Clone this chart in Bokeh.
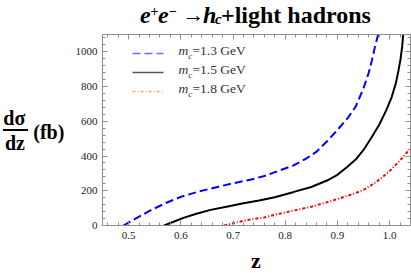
from bokeh.plotting import figure
from bokeh.models import (LinearAxis, FixedTicker, NumeralTickFormatter, Label, Arrow,
                          Range1d, Div, CustomJSTickFormatter)
from bokeh.layouts import column, row
from bokeh.embed import file_html
from bokeh.resources import INLINE

# ---- data ----
z_13 = [0.490, 0.515, 0.540, 0.570, 0.600, 0.635, 0.670, 0.700, 0.735, 0.760, 0.790,
        0.815, 0.840, 0.860, 0.880, 0.900, 0.920, 0.935, 0.950, 0.960, 0.966, 0.972, 0.978]
y_13 = [0, 42, 84, 128, 165, 196, 222, 243, 265, 285, 318,
        345, 385, 425, 485, 550, 620, 685, 790, 880, 950, 1030, 1100]

z_15 = [0.568, 0.585, 0.605, 0.630, 0.657, 0.690, 0.720, 0.750, 0.780, 0.815, 0.850,
        0.880, 0.900, 0.918, 0.935, 0.950, 0.965, 0.980, 0.993, 1.004, 1.012, 1.017,
        1.021, 1.024, 1.026]
y_15 = [0, 20, 44, 68, 90, 110, 128, 144, 163, 192, 222,
        259, 292, 336, 380, 435, 505, 580, 660, 740, 820, 893,
        960, 1030, 1100]

z_18 = [0.683, 0.710, 0.735, 0.760, 0.785, 0.816, 0.850, 0.880, 0.905, 0.931, 0.950,
        0.969, 0.985, 1.001, 1.020, 1.039]
y_18 = [0, 20, 36, 46, 65, 86, 108, 134, 157, 183, 205,
        240, 275, 317, 374, 442]

legend_mass = ["1.3", "1.5", "1.8"]

x_major = [0.5, 0.6, 0.7, 0.8, 0.9, 1.0]
x_minor = [round(0.46 + 0.02 * i, 2) for i in range(29)]
y_major = [0, 200, 400, 600, 800, 1000]
y_minor = [40 * i for i in range(28)]

FONT = "Liberation Serif"
AX = "#8f8f8f"

p = figure(width=339, height=211, output_backend="svg", toolbar_location=None,
           x_range=Range1d(0.45, 1.04), y_range=Range1d(0, 1100),
           min_border_left=30, min_border_right=1, min_border_top=0, min_border_bottom=20)
p.xgrid.visible = False
p.ygrid.visible = False
p.outline_line_color = AX
p.background_fill_color = "white"
p.border_fill_color = "white"


def style(ax, labels=True):
    ax.axis_line_color = AX
    ax.major_tick_line_color = AX
    ax.minor_tick_line_color = AX
    ax.major_tick_in = 5
    ax.major_tick_out = 0
    ax.minor_tick_in = 3
    ax.minor_tick_out = 0
    ax.major_label_text_font = FONT
    ax.major_label_text_font_size = "11px"
    ax.major_label_text_color = "#222222"
    if not labels:
        ax.formatter = CustomJSTickFormatter(code="return ''")
        ax.major_label_standoff = 0


xt = FixedTicker(ticks=x_major, minor_ticks=x_minor)
yt = FixedTicker(ticks=y_major, minor_ticks=y_minor)

xa = p.xaxis[0]
xa.ticker = xt
xa.formatter = NumeralTickFormatter(format="0.0")
style(xa)
xa.major_label_standoff = 6

ya = p.yaxis[0]
ya.ticker = yt
style(ya)
ya.major_label_standoff = 5

ra = LinearAxis(ticker=yt)
style(ra, labels=False)
p.add_layout(ra, "right")
ta = LinearAxis(ticker=xt)
style(ta, labels=False)
p.add_layout(ta, "above")

# ---- curves ----
p.line(z_13, y_13, line_color="#0000ff", line_width=2, line_dash="8 4")
p.line(z_15, y_15, line_color="black", line_width=2)
p.line(z_18, y_18, line_color="#ff0000", line_width=2, line_dash="3 2 1 2")

# ---- legend (screen units relative to the frame) ----
leg_styles = [("#6a6aff", "8 4"), ("#555555", "solid"), ("#ffa868", "3 2 1 2")]
leg_y = [172, 153, 134]
for (col, dash), ly, mass in zip(leg_styles, leg_y, legend_mass):
    p.add_layout(Arrow(end=None, x_start=30, y_start=ly, x_end=61, y_end=ly,
                       start_units="screen", end_units="screen",
                       line_color=col, line_width=1.6, line_dash=dash))
    p.add_layout(Label(x=76, y=ly - 4.5, x_units="screen", y_units="screen", text="m",
                       text_font=FONT, text_font_style="italic", text_font_size="13.5px",
                       text_color="#333333"))
    p.add_layout(Label(x=85.8, y=ly - 7.5, x_units="screen", y_units="screen", text="c",
                       text_font=FONT, text_font_style="italic", text_font_size="9px",
                       text_color="#333333"))
    p.add_layout(Label(x=90, y=ly - 4.5, x_units="screen", y_units="screen",
                       text="=" + mass + " GeV",
                       text_font=FONT, text_font_size="13.5px", text_color="#333333"))


def piece(text, left, top, size, italic=False, bold=True):
    return ('<span style="position:absolute; left:%spx; top:%spx; font-size:%spx; '
            'line-height:%spx; font-style:%s; font-weight:%s; white-space:nowrap;">%s</span>'
            % (left, top, size, size, "italic" if italic else "normal",
               "bold" if bold else "normal", text))


BOX = ('<div style="position:relative; width:%spx; height:%spx; '
       'font-family:\'Liberation Serif\',serif; color:black;">%s</div>')

title_html = BOX % (411, 34, "".join([
    piece("e", 140, 2.6, 24, italic=True),
    piece("+", 150.5, 5.1, 14),
    piece("e", 158, 2.6, 24, italic=True),
    piece("\u2212", 169, 5.1, 14),
    piece("\u2192", 182.5, 4.3, 22),
    piece("h", 203, 2.6, 24, italic=True),
    piece("c", 215, 12.4, 15, italic=True),
    piece("+light hadrons", 221, 2.6, 24),
]))

ylab_html = BOX % (72, 211, "".join([
    piece("d\u03c3", 3.3, 74.2, 20),
    '<div style="position:absolute; left:3px; top:95.3px; width:24.6px; height:1.5px; '
    'background:black;"></div>',
    piece("dz", 5, 99.2, 20),
    piece("(fb)", 33.3, 88.2, 20),
]))

zlab_html = BOX % (411, 28, piece("z", 251, 4.6, 22))

title_div = Div(text=title_html, width=411, height=34, margin=0)
ylab_div = Div(text=ylab_html, width=72, height=211, margin=0)
zlab_div = Div(text=zlab_html, width=411, height=28, margin=0)

layout = column(title_div, row(ylab_div, p, spacing=0), zlab_div, spacing=0)

open("out.html", "w").write(file_html(layout, INLINE))
